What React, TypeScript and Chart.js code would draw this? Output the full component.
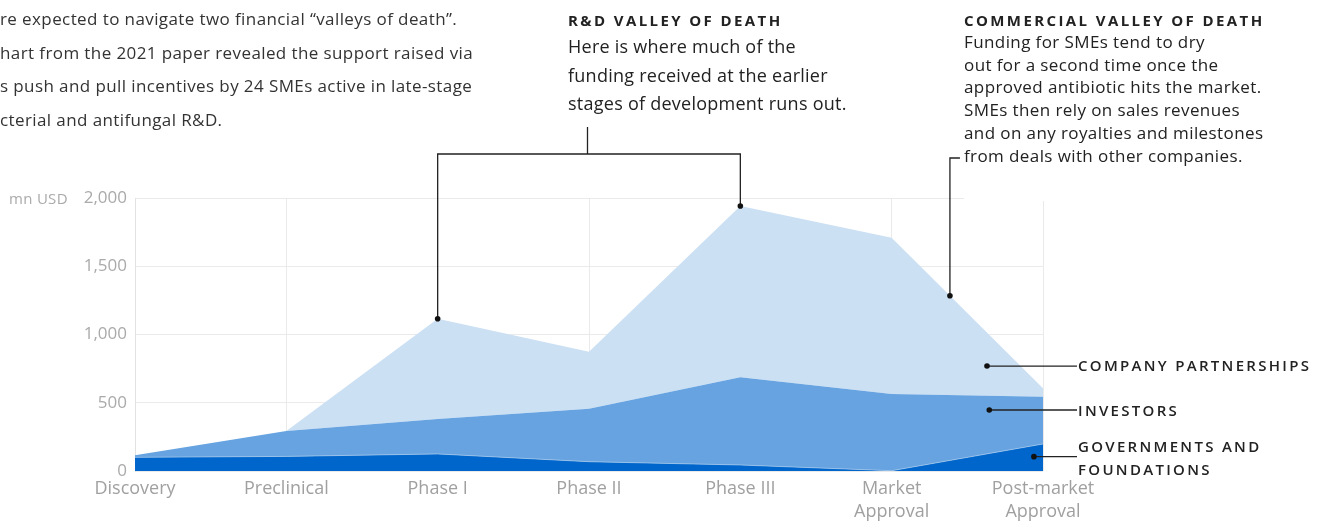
import React, { useEffect, useRef } from "react";
import { Chart, registerables } from "chart.js";

Chart.register(...registerables);

const categories: (string | string[])[] = [
  "Discovery",
  "Preclinical",
  "Phase I",
  "Phase II",
  "Phase III",
  ["Market", "Approval"],
  ["Post-market", "Approval"],
];
const governments = [100, 107, 125, 68, 44, 2, 198];
const investors = [15, 186, 256, 388, 642, 562, 346];
const company = [0, 0, 734, 418, 1255, 1145, 62];
const yTicks = [0, 500, 1000, 1500, 2000];

// annotation anchors in data units: [x category index, y value]
const commercialAnchor = 5.385;
const legendAnchors = [
  { x: 5.63, y: 769 },
  { x: 5.645, y: 447 },
  { x: 5.94, y: 105 },
];

const FONT = "'Open Sans', sans-serif";

export default function App() {
  const ref = useRef<HTMLCanvasElement>(null);

  useEffect(() => {
    const canvas = ref.current!;
    const totals = categories.map((_, i) => governments[i] + investors[i] + company[i]);

    const annot = {
      id: "annot",
      afterDraw(chart: any) {
        const { ctx } = chart;
        const x = chart.scales.x;
        const y = chart.scales.y;
        ctx.save();
        // hide top grid line beyond the annotation
        ctx.fillStyle = "#ffffff";
        ctx.fillRect(964, 194, 100, 7);

        const dot = (px: number, py: number) => {
          ctx.beginPath();
          ctx.arc(px, py, 2.8, 0, Math.PI * 2);
          ctx.fillStyle = "#111";
          ctx.fill();
        };
        ctx.strokeStyle = "#222";
        ctx.lineWidth = 1.3;

        // R&D bracket
        const x1 = x.getPixelForValue(2);
        const x2 = x.getPixelForValue(4);
        const y1 = y.getPixelForValue(totals[2]);
        const y2 = y.getPixelForValue(totals[4]);
        const by = 154;
        ctx.beginPath();
        ctx.moveTo(x1, y1);
        ctx.lineTo(x1, by);
        ctx.lineTo(x2, by);
        ctx.lineTo(x2, y2);
        ctx.moveTo((x1 + x2) / 2 - 1.5, by);
        ctx.lineTo((x1 + x2) / 2 - 1.5, 127);
        ctx.stroke();
        dot(x1, y1);
        dot(x2, y2);

        // commercial
        const f = commercialAnchor - 5;
        const cv = totals[5] + (totals[6] - totals[5]) * f;
        const cx = x.getPixelForValue(commercialAnchor);
        const cy = y.getPixelForValue(cv);
        ctx.beginPath();
        ctx.moveTo(cx, cy);
        ctx.lineTo(cx, 158);
        ctx.lineTo(cx + 10, 158);
        ctx.stroke();
        dot(cx, cy);

        // legend leaders
        legendAnchors.forEach((a) => {
          const px = x.getPixelForValue(a.x);
          const py = y.getPixelForValue(a.y);
          ctx.beginPath();
          ctx.moveTo(px, py);
          ctx.lineTo(1077, py);
          ctx.stroke();
          dot(px, py);
        });
        ctx.restore();
      },
    };

    const chart = new Chart(canvas, {
      type: "line",
      data: {
        labels: categories as any,
        datasets: [
          {
            label: "Governments and foundations",
            data: governments,
            backgroundColor: "#0066CC",
            borderColor: "rgba(190,215,240,0.6)",
            borderWidth: 1,
            fill: "origin",
            pointRadius: 0,
            tension: 0,
          },
          {
            label: "Investors",
            data: investors,
            backgroundColor: "#66A3E0",
            borderColor: "rgba(0,0,0,0)",
            borderWidth: 0,
            fill: "-1",
            pointRadius: 0,
            tension: 0,
          },
          {
            label: "Company partnerships",
            data: company,
            backgroundColor: "#CCE0F4",
            borderColor: "rgba(0,0,0,0)",
            borderWidth: 0,
            fill: "-1",
            pointRadius: 0,
            tension: 0,
          },
        ],
      },
      options: {
        animation: false,
        responsive: false,
        events: [],
        layout: { padding: { left: 0, right: 276, top: 198, bottom: 0 } },
        plugins: { legend: { display: false }, tooltip: { enabled: false } },
        scales: {
          x: {
            z: 1,
            offset: false,
            grid: { color: "rgba(232,232,232,0.9)", lineWidth: 1, drawTicks: false },
            border: { display: false },
            ticks: {
              color: "#a0a0a0",
              font: { family: FONT, size: 18, lineHeight: 1.28 },
              padding: 6,
              autoSkip: false,
              maxRotation: 0,
            },
            afterFit(scale: any) {
              scale.height = 50;
            },
          },
          y: {
            z: 1,
            stacked: true,
            min: 0,
            max: 2000,
            grid: { color: "rgba(232,232,232,0.9)", lineWidth: 1, drawTicks: false },
            border: { display: true, color: "#e2e2e2" },
            afterBuildTicks(scale: any) {
              scale.ticks = yTicks.map((v) => ({ value: v }));
            },
            ticks: {
              color: "#aaaaaa",
              font: { family: FONT, size: 17 },
              padding: 8,
              callback: (v: any) => Number(v).toLocaleString("en-US"),
            },
            afterFit(scale: any) {
              scale.width = 135;
            },
          },
        },
      },
      plugins: [annot],
    });
    return () => chart.destroy();
  }, []);

  const abs = (s: React.CSSProperties): React.CSSProperties => ({ position: "absolute", whiteSpace: "nowrap", margin: 0, ...s });
  const title = { fontFamily: FONT, fontSize: 15, fontWeight: 700, letterSpacing: "2.4px", color: "#222" };
  const legend = { fontFamily: FONT, fontSize: 15, fontWeight: 600, letterSpacing: "2.3px", color: "#222" };

  return (
    <div style={{ position: "fixed", left: 0, top: 0, width: 1319, height: 521, overflow: "hidden", background: "#fff" }}>
      <canvas ref={ref} width={1319} height={521} style={{ position: "absolute", left: 0, top: 0, width: 1319, height: 521 }} />
      <div style={abs({ left: 0, top: 2, fontFamily: FONT, fontSize: 17, letterSpacing: "0.4px", lineHeight: "33.6px", color: "#333" })}>
        re expected to navigate two financial “valleys of death”.<br />
        hart from the 2021 paper revealed the support raised via<br />
        s push and pull incentives by 24 SMEs active in late-stage<br />
        cterial and antifungal R&amp;D.
      </div>
      <div style={abs({ left: 568, top: 11, lineHeight: "18px", ...title })}>R&amp;D VALLEY OF DEATH</div>
      <div style={abs({ left: 568, top: 32, fontFamily: FONT, fontSize: 18, letterSpacing: "0.25px", lineHeight: "28.6px", color: "#222" })}>
        Here is where much of the<br />
        funding received at the earlier<br />
        stages of development runs out.
      </div>
      <div style={abs({ left: 964, top: 11, lineHeight: "18px", ...title })}>COMMERCIAL VALLEY OF DEATH</div>
      <div style={abs({ left: 964, top: 31, fontFamily: FONT, fontSize: 17, letterSpacing: "0.4px", lineHeight: "22.7px", color: "#222" })}>
        Funding for SMEs tend to dry<br />
        out for a second time once the<br />
        approved antibiotic hits the market.<br />
        SMEs then rely on sales revenues<br />
        and on any royalties and milestones<br />
        from deals with other companies.
      </div>
      <div style={abs({ left: 9, top: 188, fontFamily: FONT, fontSize: 15, letterSpacing: "0.3px", color: "#aaaaaa", lineHeight: "20px" })}>mn USD</div>
      <div style={abs({ left: 1078, top: 354, lineHeight: "22px", ...legend })}>COMPANY PARTNERSHIPS</div>
      <div style={abs({ left: 1078, top: 399, lineHeight: "22px", ...legend })}>INVESTORS</div>
      <div style={abs({ left: 1078, top: 435, lineHeight: "23px", ...legend })}>
        GOVERNMENTS AND<br />
        FOUNDATIONS
      </div>
    </div>
  );
}
